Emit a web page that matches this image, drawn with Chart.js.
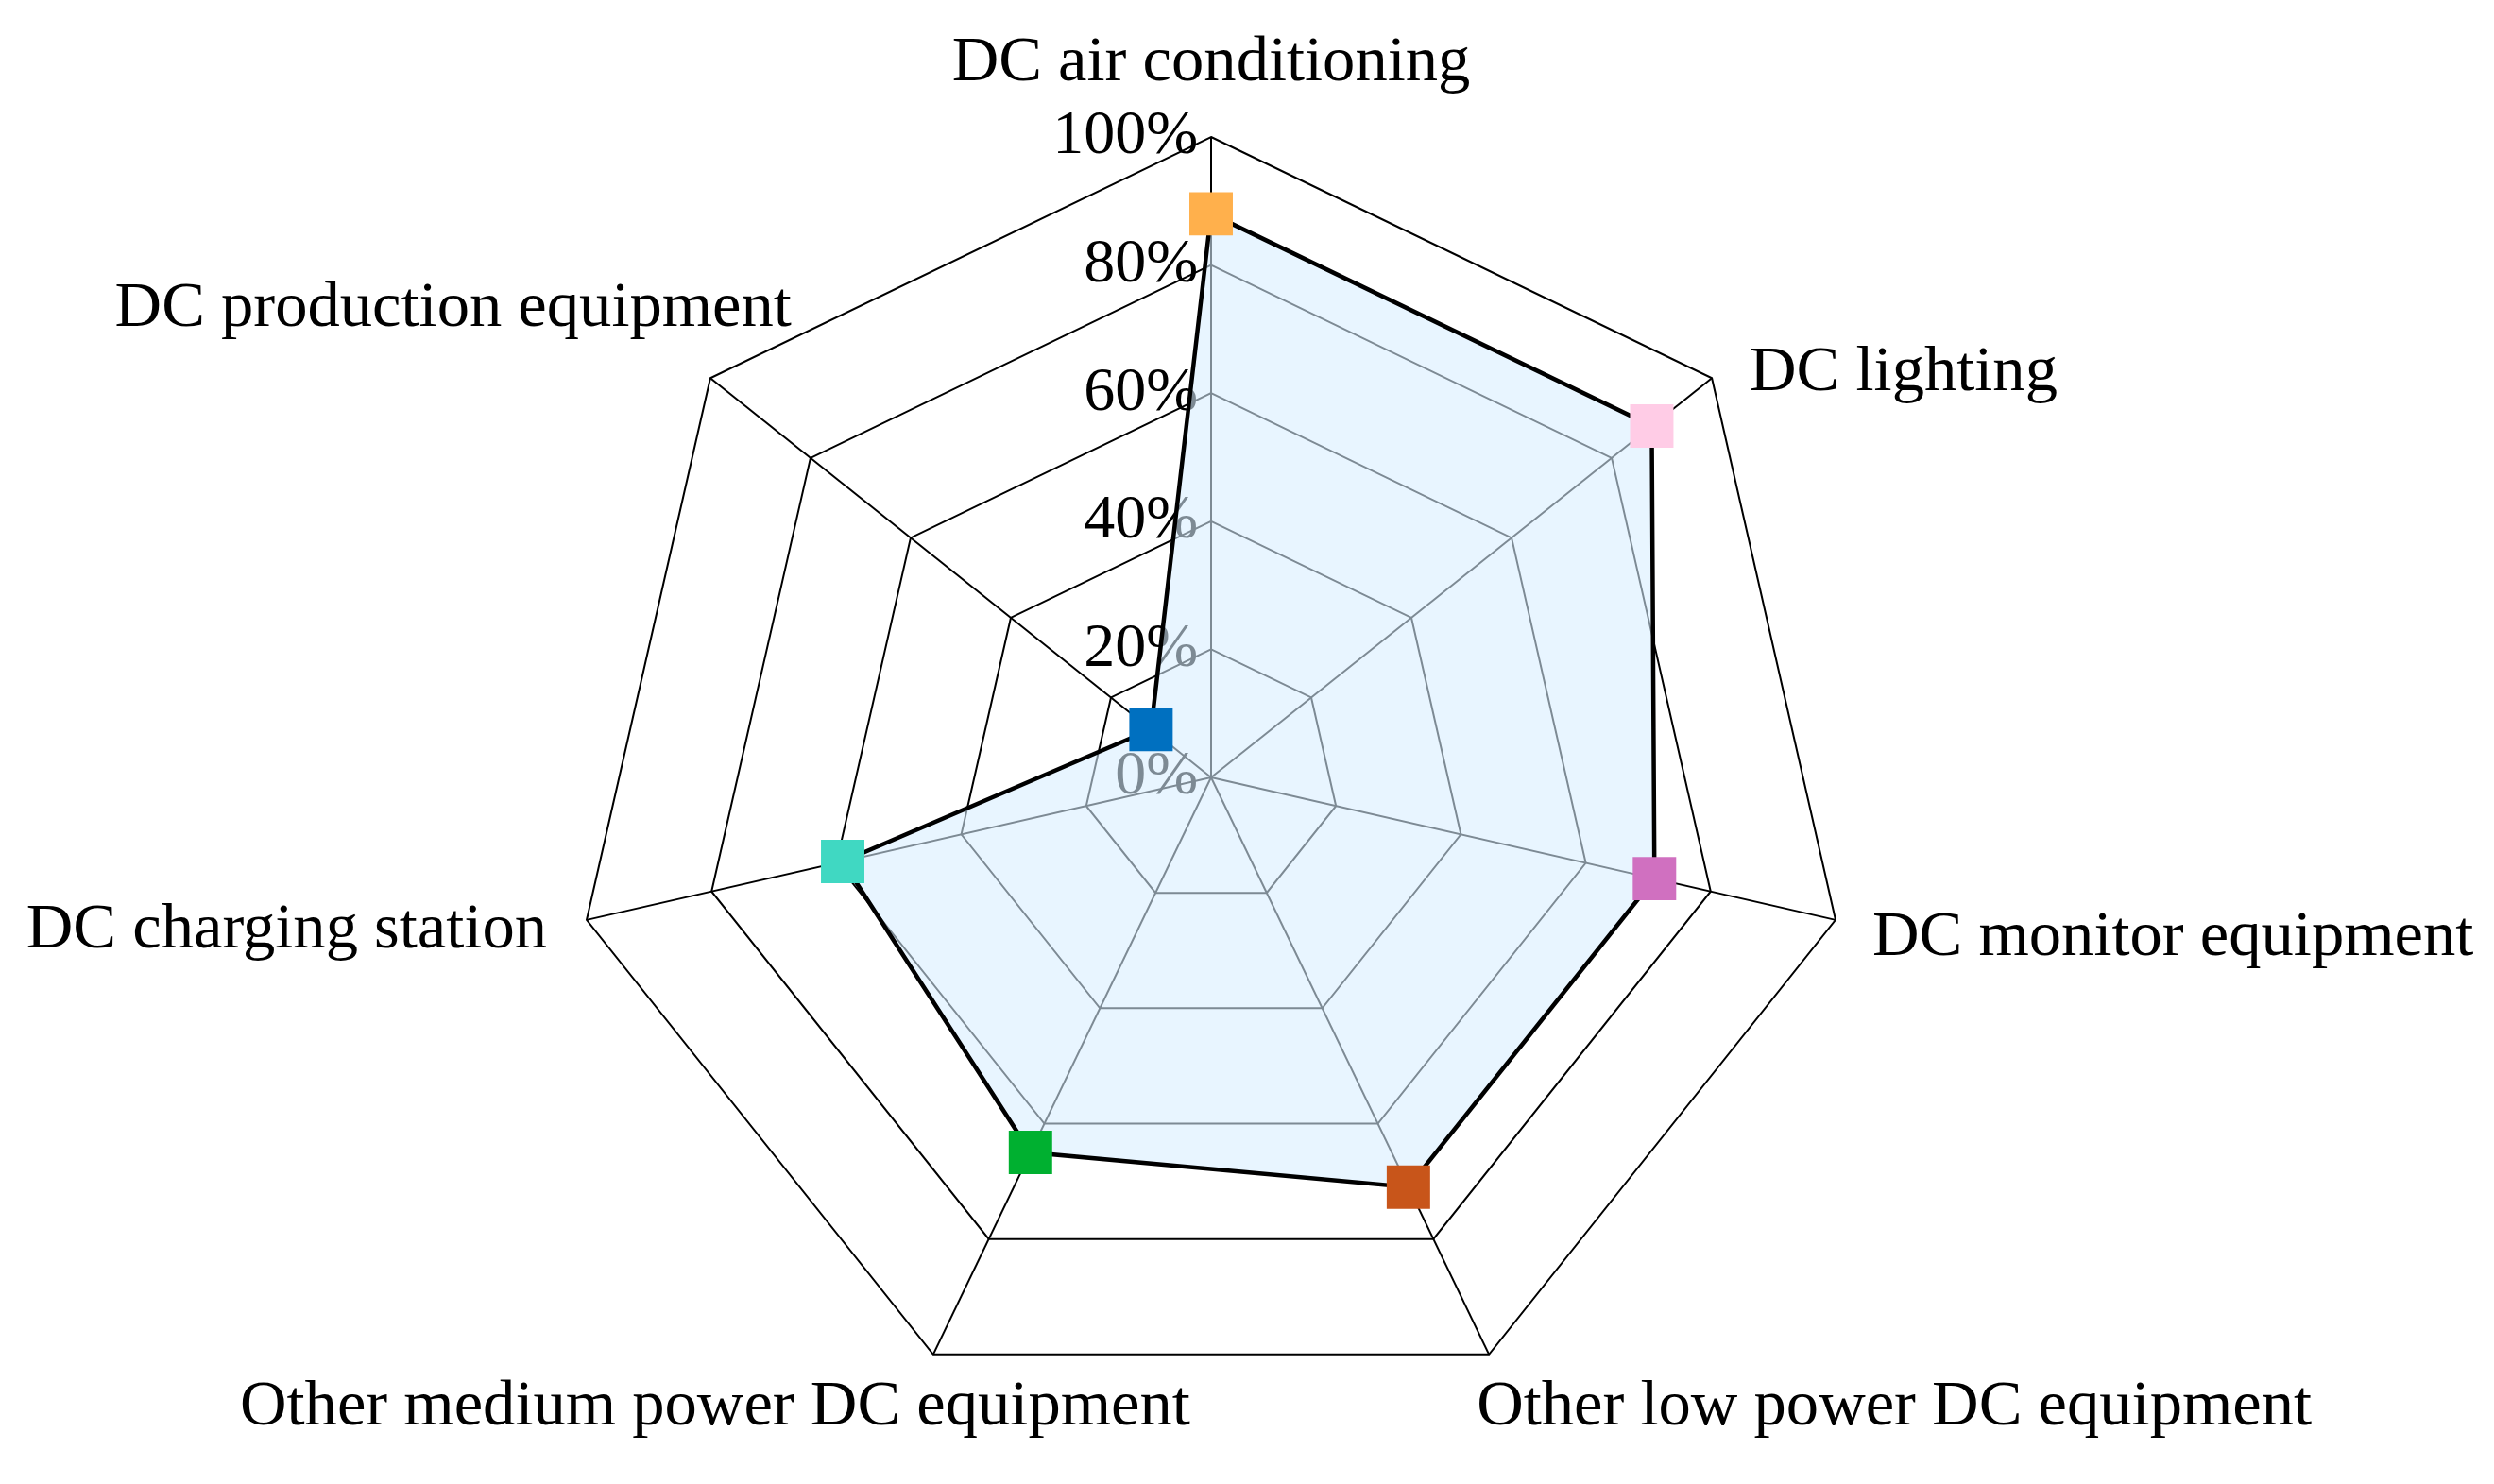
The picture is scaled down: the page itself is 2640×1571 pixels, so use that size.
<!DOCTYPE html>
<html>
<head>
<meta charset="utf-8">
<title>DC load share radar</title>
<script src="https://cdn.jsdelivr.net/npm/chart.js@4"></script>
<style>
    html, body { margin: 0; padding: 0; background: #fff; }
    canvas { display: block; }
</style>
</head>
<body>
<canvas id="radarChart" width="2640" height="1571"></canvas>
<script>
    const categories = [
        'DC air conditioning',
        'DC lighting',
        'DC monitor equipment',
        'Other low power DC equipment',
        'Other medium power DC equipment',
        'DC charging station',
        'DC production equipment'
    ];
    const shares = [88, 88, 71, 71, 65, 59, 12];
    const markerColors = ['#FFB04C', '#FFCCE6', '#D070C0', '#C8551A', '#00B030', '#40D8C2', '#0070C0'];
    const tickMin = 0;
    const tickMax = 100;
    const tickStep = 20;

    const serif = "'Liberation Serif', 'Times New Roman', serif";
    const tickFontSize = 66;

    // where each category name sits relative to its outer vertex
    const labelPlacement = [
        { dx: 0, dy: -78, align: 'center' },
        { dx: 40, dy: -5, align: 'left' },
        { dx: 39, dy: 19, align: 'left' },
        { dx: -13, dy: 56, align: 'left' },
        { dx: 272, dy: 56, align: 'right' },
        { dx: -42, dy: 11, align: 'right' },
        { dx: 86, dy: -73, align: 'right' }
    ];

    // pad tick text with trailing spaces so it ends just left of the axis
    function tickText(value) {
        const txt = value + '%';
        const n = Math.round((txt.length - 1) * 2 + 4.8);
        return txt + ' '.repeat(n);
    }

    // chart.js never prints the label of the first tick, so the 0% one is added here
    // (before the datasets, so the fill tints it like the others)
    const zeroTick = {
        id: 'zeroTick',
        beforeDatasetsDraw(chart) {
            const scale = chart.scales.r;
            const ctx = chart.ctx;
            ctx.save();
            ctx.font = tickFontSize + 'px ' + serif;
            ctx.fillStyle = '#000';
            ctx.textAlign = 'center';
            ctx.textBaseline = 'middle';
            const off = scale.getDistanceFromCenterForValue(tickMin);
            ctx.fillText(tickText(tickMin), scale.xCenter, scale.yCenter - off);
            ctx.restore();
        }
    };

    const categoryLabels = {
        id: 'categoryLabels',
        afterDraw(chart) {
            const scale = chart.scales.r;
            const ctx = chart.ctx;
            ctx.save();
            ctx.font = '68.6px ' + serif;
            ctx.fillStyle = '#000';
            ctx.textBaseline = 'middle';
            categories.forEach((name, i) => {
                const p = scale.getPointPosition(i, scale.drawingArea);
                const place = labelPlacement[i];
                ctx.textAlign = place.align;
                ctx.fillText(name, p.x + place.dx, p.y + place.dy);
            });
            ctx.restore();
        }
    };

    const ctx = document.getElementById('radarChart').getContext('2d');
    new Chart(ctx, {
        type: 'radar',
        data: {
            labels: categories,
            datasets: [{
                data: shares,
                borderColor: '#000',
                borderWidth: 4.5,
                backgroundColor: 'rgba(215, 238, 255, 0.58)',
                fill: true,
                tension: 0,
                pointStyle: 'rect',
                pointRadius: 32.5,
                pointHoverRadius: 32.5,
                pointBorderWidth: 0,
                pointBackgroundColor: markerColors
            }]
        },
        options: {
            responsive: false,
            devicePixelRatio: 1,
            animation: false,
            layout: {
                padding: { top: 110, bottom: 35, left: 0, right: 76 }
            },
            plugins: {
                legend: { display: false },
                tooltip: { enabled: false }
            },
            scales: {
                r: {
                    min: tickMin,
                    max: tickMax,
                    beginAtZero: true,
                    grid: { color: '#000', lineWidth: 2 },
                    angleLines: { color: '#000', lineWidth: 2 },
                    pointLabels: { display: false },
                    ticks: {
                        stepSize: tickStep,
                        color: '#000',
                        showLabelBackdrop: false,
                        font: { family: serif, size: tickFontSize },
                        callback: tickText
                    }
                }
            }
        },
        plugins: [zeroTick, categoryLabels]
    });
</script>
</body>
</html>
